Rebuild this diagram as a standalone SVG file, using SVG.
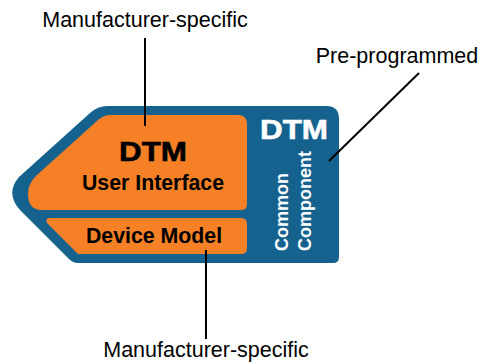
<svg xmlns="http://www.w3.org/2000/svg" width="480" height="362" viewBox="0 0 480 362">
<style>
text{font-family:"Liberation Sans",Arial,sans-serif}
.o{fill:#f58025}
.w{fill:#fff;font-weight:bold}
.k{fill:#000;font-weight:bold}
.l{fill:#000;font-size:21.5px}
.c{stroke:#000;stroke-width:2;fill:none}
.d{font-size:28px;stroke-width:.6px}
</style>
<rect width="480" height="362" fill="#fff"/>
<g id="dtm-common-component">
<path d="M107 106H326Q339 106 339 119V257Q339 263 333 263H78Q73 263 69 259L20 210Q5 193 19 177L90 113Q98 106 107 106Z" fill="#15628e"/>
<text class="w d" stroke="#fff" x="260" y="139" textLength="68" lengthAdjust="spacingAndGlyphs">DTM</text>
<text class="w" transform="translate(288 251) rotate(-90)" font-size="18">Common</text>
<text class="w" transform="translate(311 251) rotate(-90)" font-size="18">Component</text>
</g>
<g id="user-interface">
<path d="M110 115H238Q247 115 247 124V204Q247 210 241 210H42Q28 210 28 194Q28 183 37 175L98 120Q104 115 110 115Z" class="o"/>
<text class="k d" stroke="#000" x="119" y="161" textLength="68" lengthAdjust="spacingAndGlyphs">DTM</text>
<text class="k" x="153" y="190" font-size="21.3" text-anchor="middle">User Interface</text>
</g>
<g id="device-model">
<path d="M50 218H241Q247 218 247 224V248Q247 254 241 254H78L47 223Q45 218 50 218Z" class="o"/>
<text class="k" x="154" y="243" font-size="21.3" text-anchor="middle">Device Model</text>
</g>
<g id="connectors">
<path class="c" d="M145 38V126"/>
<path class="c" d="M206 250V339"/>
<path class="c" d="M329 161L419 73"/>
</g>
<g id="labels">
<text class="l" x="145" y="27" text-anchor="middle">Manufacturer-specific</text>
<text class="l" x="397" y="63" text-anchor="middle">Pre-programmed</text>
<text class="l" x="206" y="357" text-anchor="middle">Manufacturer-specific</text>
</g>
</svg>
